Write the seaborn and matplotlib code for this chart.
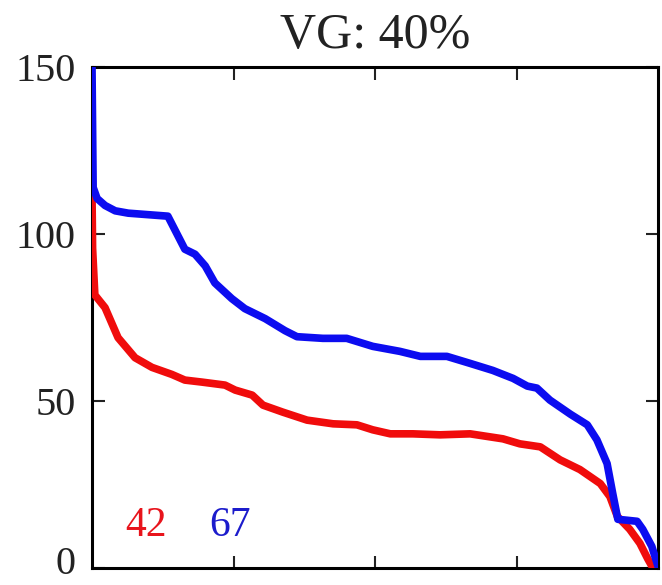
import matplotlib
matplotlib.use("Agg")
import matplotlib.pyplot as plt
import matplotlib.transforms as mtransforms
import seaborn as sns
import pandas as pd

# Curve for the 67 group (blue)
blue_x = [0, 0.2, 0.9, 2.3, 4.1, 6.4, 13.4, 16.4, 18.2, 20.0, 21.7, 24.7, 27.0,
          30.6, 34.1, 36.2, 40.8, 45.0, 49.6, 54.4, 58.0, 62.7, 66.8, 70.8,
          74.4, 76.9, 78.6, 80.9, 84.5, 87.5, 89.2, 91.0, 92.0, 92.9, 96.3,
          97.3, 98.9, 100.0]
blue_y = [150, 114, 110.7, 108.6, 107, 106.3, 105.4, 95.5, 94, 90.5, 85.4, 80.7,
          77.7, 74.7, 71.1, 69.3, 68.8, 68.8, 66.4, 64.9, 63.4, 63.4, 61.3,
          59.2, 56.8, 54.5, 53.9, 50.3, 46.1, 42.9, 38.4, 31.3, 22.3, 14.6,
          14.0, 11.6, 6.5, 0.5]

# Curve for the 42 group (red)
red_x = [0, 0.1, 0.5, 2.3, 4.6, 7.6, 10.6, 14.1, 16.4, 19.4, 23.5, 25.3, 28.3,
         30.2, 33.7, 38.0, 42.6, 46.8, 49.6, 52.7, 56.7, 61.5, 66.8, 72.6,
         75.6, 79.2, 82.7, 86.2, 89.8, 91.5, 92.8, 95.0, 96.8, 98.2, 99.1]
red_y = [112, 95.8, 81.8, 78, 69, 63, 60.1, 58, 56.3, 55.7, 54.8, 53.3, 51.8,
         48.8, 46.7, 44.3, 43.2, 42.9, 41.4, 40.2, 40.2, 39.9, 40.2, 38.7,
         37.2, 36.3, 32.4, 29.5, 25.3, 21.4, 15.5, 11.6, 7.4, 2.7, 0]

title_text = "VG: 40%"
red_label = "42"
blue_label = "67"
y_ticks = [0, 50, 100, 150]
x_ticks = [25, 50, 75]

sns.set_theme(style="white")
plt.rcParams["font.family"] = ["Liberation Serif", "DejaVu Serif"]

fig = plt.figure(figsize=(6.62, 5.85), dpi=100)
ax = fig.add_axes([0.139, 0.029, 0.855, 0.856])

df_blue = pd.DataFrame({"x": blue_x, "y": blue_y})
df_red = pd.DataFrame({"x": red_x, "y": red_y})

sns.lineplot(data=df_red, x="x", y="y", ax=ax, color="#f00c0c", lw=5.5,
             sort=False, estimator=None, solid_joinstyle="round", zorder=3)
sns.lineplot(data=df_blue, x="x", y="y", ax=ax, color="#0c0cf0", lw=5.5,
             sort=False, estimator=None, solid_joinstyle="round", zorder=4)

ax.set_xlim(0, 100)
ax.set_ylim(0, 150)
ax.set_xticks(x_ticks)
ax.set_xticklabels([])
ax.set_yticks(y_ticks)
ax.set_yticklabels([str(v) for v in y_ticks], fontsize=29)
ax.tick_params(axis="both", direction="in", length=9, width=1.5,
               color="#222222", top=True, right=True, bottom=True, left=True,
               labelcolor="#222222")
ax.tick_params(axis="y", pad=12)
ax.set_xlabel("")
ax.set_ylabel("")

# lift the bottom tick label so it stays inside the canvas
shift = mtransforms.ScaledTranslation(0, 8 / 100, fig.dpi_scale_trans)
bottom_label = ax.get_yticklabels()[0]
bottom_label.set_transform(bottom_label.get_transform() + shift)

for s in ax.spines.values():
    s.set_color("black")
    s.set_linewidth(2.2)
    s.set_visible(True)

ax.set_title(title_text, fontsize=36, color="#222222", pad=14)

ax.text(5.8, 9.5, red_label, color="#e8141c", fontsize=30, ha="left",
        va="baseline")
ax.text(20.8, 9.5, blue_label, color="#1c1ccc", fontsize=30, ha="left",
        va="baseline")

fig.savefig("out.png", dpi=100)
